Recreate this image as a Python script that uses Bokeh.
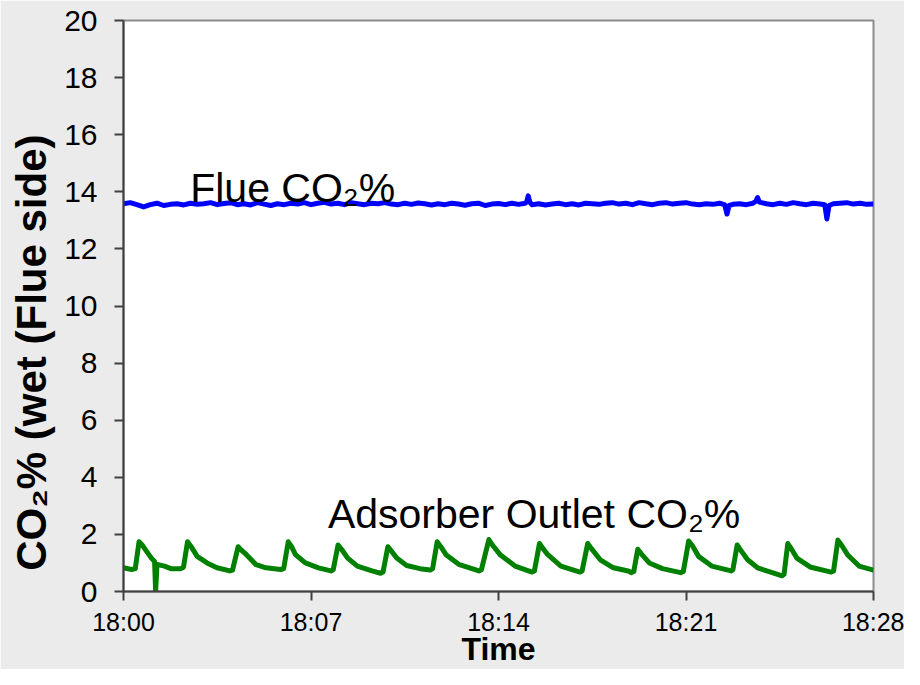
from bokeh.plotting import figure
from bokeh.models import Range1d, FixedTicker, Label
from bokeh.embed import file_html
from bokeh.resources import INLINE

# time in minutes after 18:00
tick_minutes = [0, 7, 14, 21, 28]
tick_labels = ["18:00", "18:07", "18:14", "18:21", "18:28"]
y_ticks = [0, 2, 4, 6, 8, 10, 12, 14, 16, 18, 20]

flue_t = [0.0, 0.25, 0.5, 0.75, 1.0, 1.25, 1.5, 1.75, 2.0, 2.25, 2.5, 2.75, 3.0, 3.25,
          3.5, 3.75, 4.0, 4.25, 4.5, 4.75, 5.0, 5.25, 5.5, 5.75, 6.0, 6.25, 6.5, 6.75,
          7.0, 7.25, 7.5, 7.75, 8.0, 8.25, 8.5, 8.75, 9.0, 9.25, 9.5, 9.75, 10.0, 10.25,
          10.5, 10.75, 11.0, 11.25, 11.5, 11.75, 12.0, 12.25, 12.5, 12.75, 13.0, 13.25,
          13.5, 13.75, 14.0, 14.25, 14.5, 14.75, 15.0, 15.05, 15.11, 15.17, 15.25, 15.5,
          15.75, 16.0, 16.25, 16.5, 16.75, 17.0, 17.25, 17.5, 17.75, 18.0, 18.25, 18.5,
          18.75, 19.0, 19.25, 19.5, 19.75, 20.0, 20.25, 20.5, 20.75, 21.0, 21.25, 21.5,
          21.75, 22.0, 22.25, 22.45, 22.53, 22.61, 22.75, 23.0, 23.25, 23.5, 23.6, 23.67,
          23.74, 24.0, 24.25, 24.5, 24.75, 25.0, 25.25, 25.5, 25.75, 26.0, 26.18, 26.26,
          26.34, 26.5, 26.75, 27.0, 27.25, 27.5, 27.75, 28.0]
flue_co2 = [13.58, 13.62, 13.55, 13.47, 13.55, 13.60, 13.52, 13.56, 13.58, 13.54, 13.60,
            13.56, 13.58, 13.62, 13.55, 13.59, 13.62, 13.55, 13.58, 13.54, 13.62, 13.57,
            13.52, 13.58, 13.55, 13.60, 13.57, 13.62, 13.55, 13.60, 13.63, 13.57, 13.60,
            13.55, 13.62, 13.58, 13.55, 13.60, 13.58, 13.62, 13.57, 13.55, 13.60, 13.56,
            13.61, 13.58, 13.54, 13.58, 13.55, 13.60, 13.57, 13.53, 13.58, 13.60, 13.52,
            13.57, 13.59, 13.55, 13.60, 13.56, 13.60, 13.64, 13.86, 13.64, 13.55, 13.58,
            13.54, 13.57, 13.60, 13.55, 13.58, 13.54, 13.60, 13.58, 13.56, 13.60, 13.62,
            13.57, 13.60, 13.55, 13.62, 13.58, 13.55, 13.60, 13.62, 13.57, 13.60, 13.62,
            13.57, 13.55, 13.58, 13.56, 13.60, 13.54, 13.22, 13.52, 13.56, 13.58, 13.55,
            13.60, 13.66, 13.80, 13.64, 13.58, 13.55, 13.60, 13.56, 13.62, 13.58, 13.55,
            13.60, 13.57, 13.55, 13.05, 13.52, 13.58, 13.60, 13.62, 13.57, 13.60, 13.56,
            13.57]

outlet_t = [0.00, 0.30, 0.44, 0.58, 0.72, 1.04, 1.16, 1.20, 1.25, 1.53, 1.77, 2.14, 2.24,
            2.39, 2.52, 2.75, 3.12, 3.49, 3.97, 4.07, 4.28, 4.40, 4.59, 4.95, 5.32, 5.87,
            5.98, 6.15, 6.27, 6.42, 6.79, 7.28, 7.74, 7.83, 8.01, 8.14, 8.37, 8.73, 9.28,
            9.60, 9.69, 9.87, 10.00, 10.20, 10.57, 11.07, 11.45, 11.54, 11.71, 11.84, 12.04,
            12.54, 13.27, 13.36, 13.64, 13.78, 14.06, 14.62, 15.25, 15.34, 15.53, 15.65,
            15.84, 16.33, 17.04, 17.12, 17.33, 17.47, 17.80, 18.29, 18.84, 18.95, 19.05,
            19.20, 19.33, 19.63, 20.12, 20.80, 20.90, 21.10, 21.24, 21.47, 21.96, 22.69,
            22.75, 22.91, 23.04, 23.30, 23.67, 24.16, 24.59, 24.66, 24.80, 24.93, 25.14,
            25.63, 26.42, 26.51, 26.67, 26.81, 27.03, 27.46, 28.00]
outlet_co2 = [0.83, 0.77, 0.80, 1.74, 1.60, 1.17, 1.05, 0.00, 0.95, 0.89, 0.80, 0.80, 0.85,
              1.74, 1.58, 1.23, 1.00, 0.83, 0.72, 0.75, 1.57, 1.45, 1.29, 0.94, 0.83, 0.77,
              0.80, 1.74, 1.58, 1.29, 1.00, 0.83, 0.72, 0.76, 1.63, 1.48, 1.17, 0.89, 0.72,
              0.64, 0.68, 1.57, 1.42, 1.17, 0.91, 0.80, 0.75, 0.80, 1.74, 1.58, 1.29, 0.94,
              0.72, 0.76, 1.82, 1.62, 1.29, 0.89, 0.68, 0.72, 1.68, 1.52, 1.29, 0.89, 0.68,
              0.72, 1.68, 1.50, 1.11, 0.83, 0.72, 0.66, 0.70, 1.48, 1.32, 1.00, 0.80, 0.66,
              0.70, 1.77, 1.60, 1.23, 0.89, 0.72, 0.76, 1.63, 1.45, 1.11, 0.83, 0.68, 0.55,
              0.60, 1.68, 1.50, 1.17, 0.86, 0.68, 0.72, 1.80, 1.62, 1.29, 0.89, 0.75]

FONT = "Liberation Sans"
BG = "#ebebeb"

p = figure(width=904, height=669, output_backend="svg", toolbar_location=None,
           x_range=Range1d(0, 28), y_range=Range1d(0, 20),
           min_border_left=123, min_border_right=31, min_border_top=20, min_border_bottom=77)
p.background_fill_color = "white"
p.border_fill_color = BG
p.outline_line_color = "#8c8c8c"
p.outline_line_width = 2
p.grid.visible = False

p.line(flue_t, flue_co2, line_color="#0000ff", line_width=5, line_join="round")
p.line(outlet_t, outlet_co2, line_color="#008000", line_width=5, line_join="round")

p.add_layout(Label(x=2.49, y=14.15, text="Flue CO\u2082%", text_font=FONT,
                   text_font_size="41px", text_color="black", text_baseline="alphabetic"))
p.add_layout(Label(x=7.63, y=2.71, text="Adsorber Outlet CO\u2082%", text_font=FONT,
                   text_font_size="41px", text_color="black", text_baseline="alphabetic"))

xa = p.xaxis[0]
xa.ticker = FixedTicker(ticks=tick_minutes)
xa.major_label_overrides = {t: l for t, l in zip(tick_minutes, tick_labels)}
xa.major_label_text_font = FONT
xa.major_label_text_font_size = "25px"
xa.major_label_standoff = 7
xa.axis_label = "Time"
xa.axis_label_text_font_size = "32px"
xa.axis_label_standoff = -8

ya = p.yaxis[0]
ya.ticker = FixedTicker(ticks=y_ticks)
ya.major_label_text_font = FONT
ya.major_label_text_font_size = "30px"
ya.major_label_standoff = 17
ya.axis_label = "CO\u2082% (wet (Flue side)" + "\u00a0" * 8
ya.axis_label_text_font_size = "42px"
ya.axis_label_standoff = 6

for ax in (xa, ya):
    ax.axis_line_color = "#404040"
    ax.axis_line_width = 2
    ax.major_tick_line_color = "#404040"
    ax.major_tick_line_width = 2
    ax.major_tick_out = 9
    ax.major_tick_in = 0
    ax.minor_tick_line_color = None
    ax.major_label_text_color = "black"
    ax.axis_label_text_font = FONT
    ax.axis_label_text_font_style = "bold"
    ax.axis_label_text_color = "black"

open("out.html", "w").write(file_html(p, INLINE))
